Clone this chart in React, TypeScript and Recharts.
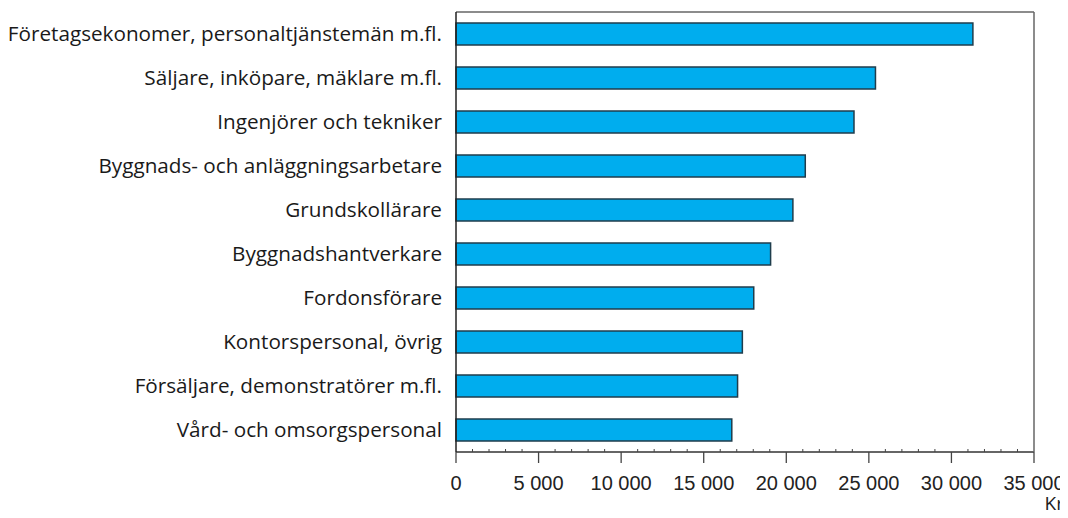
import { BarChart, Bar, XAxis, YAxis } from 'recharts';

const categories = [
  'Företagsekonomer, personaltjänstemän m.fl.',
  'Säljare, inköpare, mäklare m.fl.',
  'Ingenjörer och tekniker',
  'Byggnads- och anläggningsarbetare',
  'Grundskollärare',
  'Byggnadshantverkare',
  'Fordonsförare',
  'Kontorspersonal, övrig',
  'Försäljare, demonstratörer m.fl.',
  'Vård- och omsorgspersonal',
];

const values = [31300, 25400, 24100, 21150, 20400, 19050, 18030, 17340, 17050, 16700];

const majorTicks = [0, 5000, 10000, 15000, 20000, 25000, 30000, 35000];
const minorTicks = [
  1000, 2000, 3000, 4000, 6000, 7000, 8000, 9000, 11000, 12000, 13000, 14000,
  16000, 17000, 18000, 19000, 21000, 22000, 23000, 24000, 26000, 27000, 28000,
  29000, 31000, 32000, 33000, 34000,
];

const data = categories.map((name, i) => ({ name, value: values[i] }));

const fmt = (v: number) => (v === 0 ? '0' : v.toLocaleString('sv-SE').replace(/\s/g, ' '));

const TICK_SIZE = 11;
const TICK_MARGIN = 13;

const XTick = ({ x, y, payload }: any) => {
  const v = payload.value as number;
  const axisY = y - TICK_SIZE - TICK_MARGIN;
  const major = majorTicks.includes(v);
  if (!major) {
    return <line x1={x} x2={x} y1={axisY} y2={axisY - 3} stroke="#444" strokeWidth={1} />;
  }
  return (
    <g>
      <line x1={x} x2={x} y1={axisY} y2={axisY + TICK_SIZE} stroke="#444" strokeWidth={1.3} />
      <text
        x={x}
        y={y}
        dy="0.71em"
        textAnchor="middle"
        fill="#222"
        style={{ fontFamily: '"Liberation Sans", Arial, sans-serif', fontSize: 20 }}
      >
        {fmt(v)}
      </text>
    </g>
  );
};

// "Kr" unit, bottom right under the last tick label
const KrLabel = () => (
  <text
    x={1064}
    y={510}
    textAnchor="end"
    fill="#222"
    fontSize={19}
    fontFamily='"Open Sans", sans-serif'
  >
    Kr
  </text>
);

export default function App() {
  const allTicks = [...majorTicks, ...minorTicks].sort((a, b) => a - b);
  return (
    <div style={{ margin: -8 }}>
      <BarChart
        width={1068}
        height={518}
        data={data}
        layout="vertical"
        margin={{ top: 11, right: 33, left: 0, bottom: 0 }}
        barCategoryGap={11}
        style={{ display: 'block' }}
      >
        <XAxis
          type="number"
          domain={[0, 35000]}
          ticks={allTicks}
          interval={0}
          tick={<XTick />}
          tickLine={false}
          tickSize={TICK_SIZE}
          tickMargin={TICK_MARGIN}
          axisLine={{ stroke: '#333', strokeWidth: 1.5 }}
          height={66}
          label={{ content: <KrLabel /> }}
        />
        <XAxis
          xAxisId="top"
          orientation="top"
          type="number"
          domain={[0, 35000]}
          height={1}
          tick={false}
          tickLine={false}
          axisLine={{ stroke: '#666', strokeWidth: 1.5 }}
        />
        <YAxis
          type="category"
          dataKey="name"
          width={456}
          tickLine={false}
          tickSize={0}
          tickMargin={14}
          interval={0}
          axisLine={{ stroke: '#222', strokeWidth: 1.5 }}
          tick={{ fill: '#1a1a1a', fontSize: 20.7, fontFamily: '"Open Sans", sans-serif' }}
        />
        <YAxis
          yAxisId="right"
          orientation="right"
          type="category"
          dataKey="name"
          width={1}
          tick={false}
          tickLine={false}
          axisLine={{ stroke: '#666', strokeWidth: 1.5 }}
        />
        <Bar
          dataKey="value"
          fill="#00ADEE"
          stroke="#1f3d4c"
          strokeWidth={1.5}
          barSize={22}
          isAnimationActive={false}
        />
      </BarChart>
    </div>
  );
}
